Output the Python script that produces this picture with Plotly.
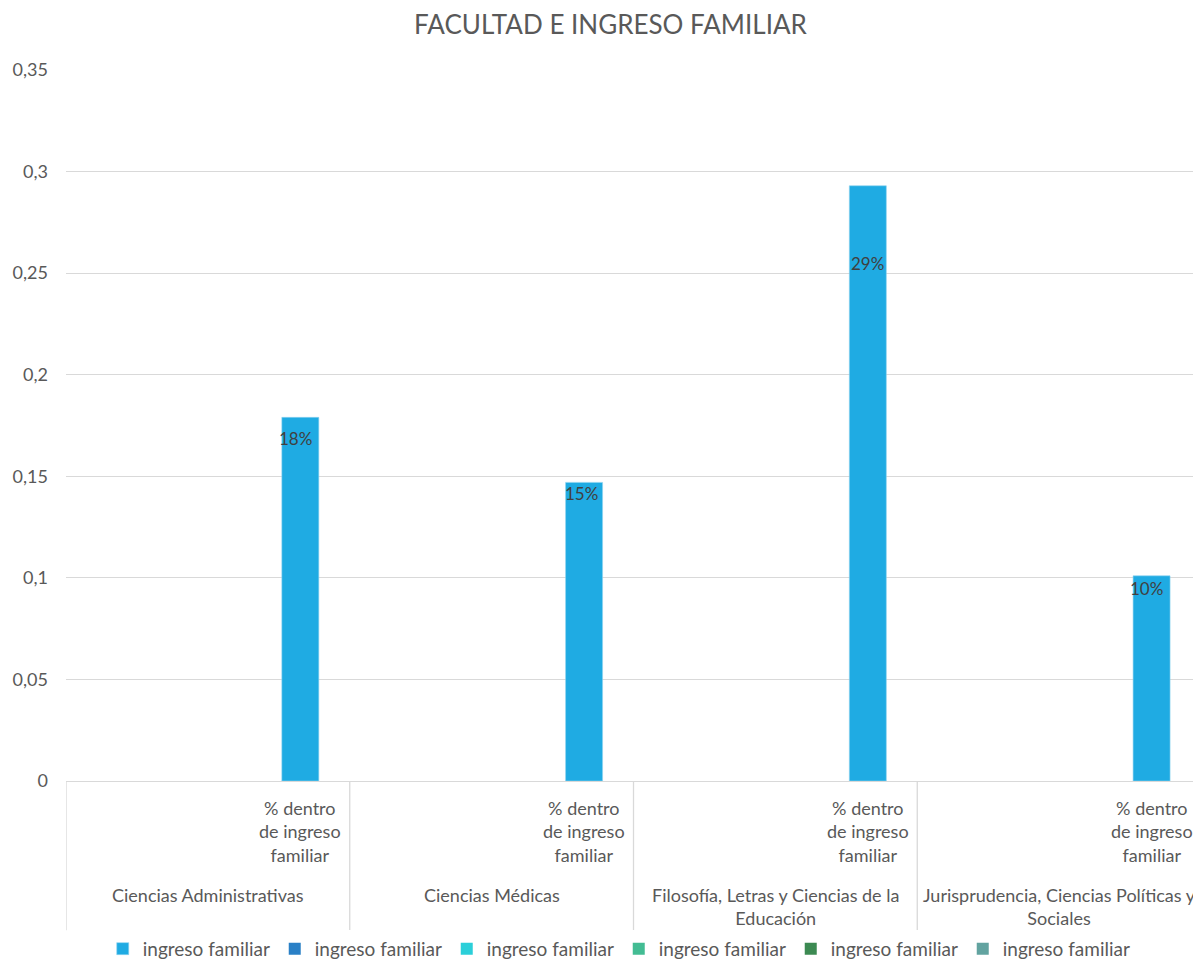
import plotly.graph_objects as go

# ---------------- data ----------------
categories = ["Ciencias Administrativas", "Ciencias Médicas",
              "Filosofía, Letras y Ciencias de la Educación",
              "Jurisprudencia, Ciencias Políticas y Sociales"]
category_labels = ["Ciencias Administrativas", "Ciencias Médicas",
                   "Filosofía, Letras y Ciencias de la<br>Educación",
                   "Jurisprudencia, Ciencias Políticas y<br>Sociales"]
inner_label = "% dentro<br>de ingreso<br>familiar"
series_names = ["ingreso familiar"] * 6
values_main = [0.179, 0.147, 0.293, 0.101]
values_empty = [0, 0, 0, 0]
value_labels = ["18%", "15%", "29%", "10%"]
y_ticks = [0, 0.05, 0.1, 0.15, 0.2, 0.25, 0.3, 0.35]

# ---------------- styles ----------------
FONT = "Lato"
main_color = "#1FABE3"
other_colors = ["#2A80C6", "#2BCFD9", "#43BC93", "#3C8A52", "#62A3A0"]
label_shift = [-21, -11, -78, -13]   # pixel offsets of the data labels (style)
label_xshift = [-5, -3, 0, -5]
BARGAP = 0.218
NSLOTS = 6

fig = go.Figure()
# empty series occupy the first five slots
for k, c in enumerate(other_colors):
    fig.add_trace(go.Bar(x=categories, y=values_empty, name=series_names[k + 1],
                         marker=dict(color=c, line=dict(width=0)),
                         legendrank=k + 2, hoverinfo="skip"))
# the series with values is drawn in the last slot
fig.add_trace(go.Bar(x=categories, y=values_main, name=series_names[0],
                     marker=dict(color=main_color, line=dict(width=0.6, color="#8FD3F0")),
                     legendrank=1))

slot_offset = -0.5 + BARGAP / 2 + (NSLOTS - 0.5) * (1 - BARGAP) / NSLOTS

annotations = []
for i, (v, lab) in enumerate(zip(values_main, value_labels)):
    annotations.append(dict(x=i + slot_offset, y=v, xref="x", yref="y", text=lab,
                            showarrow=False, yanchor="middle", yshift=label_shift[i],
                            xshift=label_xshift[i],
                            font=dict(family=FONT, size=17, color="#404040")))
    annotations.append(dict(x=i + slot_offset, y=-0.02, xref="x", yref="paper",
                            text=inner_label, showarrow=False, yanchor="top",
                            font=dict(family=FONT, size=18, color="#595959")))
for i, lab in enumerate(category_labels):
    annotations.append(dict(x=i, y=-0.142, xref="x", yref="paper", text=lab,
                            showarrow=False, yanchor="top",
                            font=dict(family=FONT, size=18, color="#595959")))

shapes = []
for i in range(len(categories)):
    shapes.append(dict(type="line", xref="x", yref="paper", x0=i - 0.5, x1=i - 0.5,
                       y0=0, y1=-0.21, line=dict(color="#D9D9D9", width=1.3)))

fig.update_layout(
    width=1193, height=961,
    margin=dict(l=58, r=0, t=62, b=188, autoexpand=False),
    paper_bgcolor="white", plot_bgcolor="white",
    separators=",.",
    barmode="group", bargap=BARGAP, bargroupgap=0,
    title=dict(text="FACULTAD E INGRESO FAMILIAR", x=0.505, xanchor="center",
               y=0.982, yanchor="middle",
               font=dict(family=FONT, size=26, color="#595959")),
    xaxis=dict(type="category", categoryarray=categories, showticklabels=False,
               showgrid=False, showline=False, zeroline=False, ticks="",
               range=[-0.5, len(categories) - 0.5]),
    yaxis=dict(range=[0, 0.35], tickvals=y_ticks, showgrid=True,
               gridcolor="#D9D9D9", gridwidth=1.3, zeroline=True,
               zerolinecolor="#D9D9D9", zerolinewidth=1.3, showline=False,
               ticks="", ticklabelstandoff=17,
               tickfont=dict(family=FONT, size=18, color="#595959")),
    showlegend=True,
    legend=dict(orientation="h", x=0.487, xanchor="center", y=-0.236,
                yanchor="middle", traceorder="normal",
                entrywidth=127, entrywidthmode="pixels",
                font=dict(family=FONT, size=19, color="#595959"),
                itemwidth=30),
    annotations=annotations,
    shapes=shapes,
)

fig.write_html("out.html")
